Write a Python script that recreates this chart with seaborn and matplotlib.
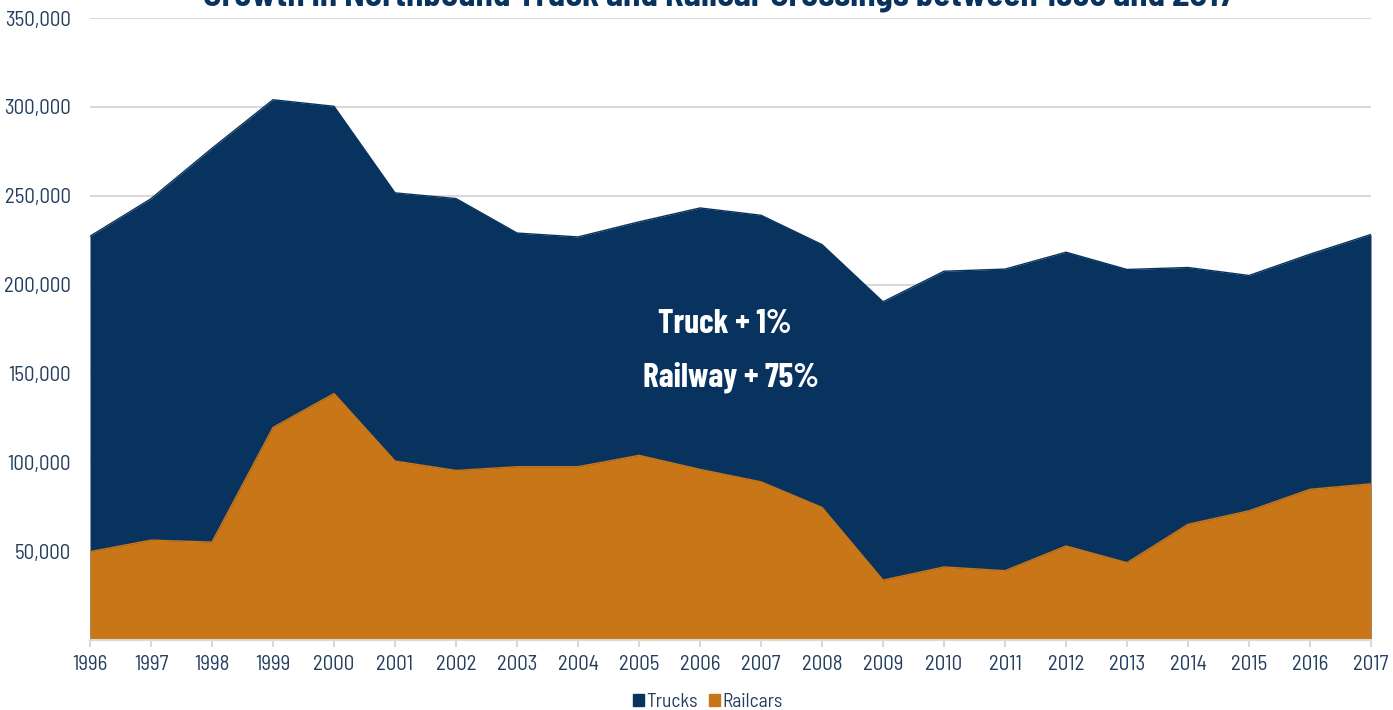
import numpy as np
import pandas as pd
import matplotlib
matplotlib.use("Agg")
import matplotlib.pyplot as plt
from matplotlib.patches import Patch
import seaborn as sns

# --- data ---
years = list(range(1996, 2018))
trucks = [227200, 248300, 276700, 304000, 300300, 251600, 248400, 229000, 226800, 235300,
          243100, 239000, 222500, 190300, 207500, 208700, 218200, 208500, 209600, 205100,
          217100, 228200]
railcars = [49700, 56200, 55100, 119600, 138700, 100700, 95400, 97500, 97500, 103900,
            96000, 89000, 74600, 33700, 41100, 39000, 52900, 43500, 65100, 72700,
            84800, 87900]
yticks = [50000, 100000, 150000, 200000, 250000, 300000, 350000]
title = "Growth in Northbound Truck and Railcar Crossings between 1996 and 2017"
notes = ["Truck + 1%", "Railway + 75%"]

df = pd.DataFrame({"Year": years, "Trucks": trucks, "Railcars": railcars})

NAVY = "#08335E"
ORANGE = "#C97619"
TXT = "#243F60"
GRID = "#D9D9D9"

SEMI = ["Barlow Semi Condensed", "DejaVu Sans"]
COND = ["Barlow Condensed", "DejaVu Sans"]

sns.set_theme(style="white")
# condensed faces; fall back to DejaVu Sans Condensed if Barlow is absent
plt.rcParams["font.family"] = SEMI
plt.rcParams["font.stretch"] = "condensed"

fig = plt.figure(figsize=(13.93, 7.10), dpi=100)
ax = fig.add_axes([90 / 1393, 70 / 710, 1281 / 1393, 622 / 710])

# overlapping areas (not stacked)
ax.fill_between(df["Year"], 0, df["Trucks"], color=NAVY, linewidth=0, zorder=2)
sns.lineplot(data=df, x="Year", y="Trucks", color=NAVY, lw=1, ax=ax, zorder=2)
ax.fill_between(df["Year"], 0, df["Railcars"], color=ORANGE, linewidth=0, zorder=3)
sns.lineplot(data=df, x="Year", y="Railcars", color=ORANGE, lw=1, ax=ax, zorder=3)

ax.set_xlim(1996, 2017)
ax.set_ylim(0, 350000)
ax.set_xticks(years)
ax.set_xticklabels([str(y) for y in years])
ax.set_yticks(yticks)
ax.set_yticklabels([f"{v:,}" for v in yticks])
ax.set_xlabel("")
ax.set_ylabel("")

ax.grid(axis="y", color=GRID, lw=1.5, zorder=1)
ax.grid(axis="x", visible=False)
for s in ["left", "right", "top"]:
    ax.spines[s].set_visible(False)
ax.spines["bottom"].set_color(GRID)
ax.spines["bottom"].set_linewidth(1.5)
ax.spines["bottom"].set_zorder(4)

ax.tick_params(axis="x", colors=GRID, length=5, width=1.5, pad=6, labelsize=15,
               labelcolor=TXT, direction="out", bottom=True)
ax.tick_params(axis="y", length=0, pad=14, labelsize=15, labelcolor=TXT)

ax.text(2006.4, 177600, notes[0], color="white", fontsize=24, fontweight="bold",
        family=COND, ha="center", va="center", zorder=5)
ax.text(2006.5, 147600, notes[1], color="white", fontsize=24, fontweight="bold",
        family=COND, ha="center", va="center", zorder=5)

fig.text(719 / 1393, 1 - 5.5 / 710, title, color=NAVY, fontsize=25, fontweight="bold",
         ha="center", va="baseline")

handles = [Patch(color=NAVY, label="Trucks"), Patch(color=ORANGE, label="Railcars")]
fig.legend(handles=handles, loc="center", bbox_to_anchor=(0.508, 8 / 710), ncol=2,
           frameon=False, fontsize=14, labelcolor=TXT, handlelength=0.55,
           handleheight=0.55, handletextpad=0.12, columnspacing=0.6)

fig.savefig("out.png", dpi=100)
